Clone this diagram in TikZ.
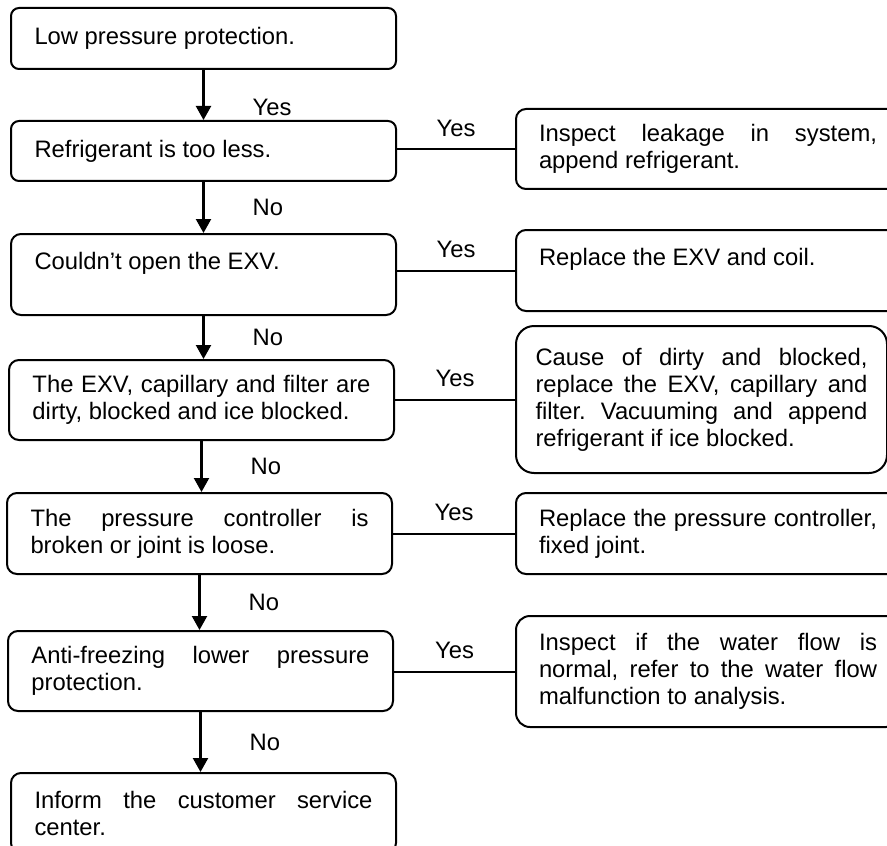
\documentclass[tikz,border=0pt]{standalone}
\usepackage{fontspec}
\setmainfont{Liberation Sans}
\frenchspacing
\usetikzlibrary{arrows.meta, positioning}

\begin{document}
\begin{tikzpicture}[x=0.5pt, y=0.5pt, line join=round,
    box/.style={draw, line width=1pt, rounded corners=5pt, anchor=north west,
      align=justify, text width=169pt, inner xsep=11.75pt, inner ysep=0pt,
      font=\fontsize{11.9}{13.5}\selectfont},
    rbox/.style={box, inner xsep=11.5pt},
    flow/.style={line width=1.1pt, -{Triangle[length=7pt, width=7.5pt]}},
    link/.style={line width=1pt},
    lbl/.style={inner sep=0pt, font=\fontsize{11.9}{13.5}\selectfont}]
  \clip (0,0) rectangle (887,-845);
  % Pruefkette links
  \node[box, minimum height=30.5pt, rounded corners=4pt] (low) at (10,-7) {Low pressure protection.};
  \node[box, minimum height=30pt, rounded corners=4pt] (less) at (10,-120) {Refrigerant is too less.};
  \node[box, minimum height=40.5pt] (exv) at (10,-233) {Couldn’t open the EXV.\\\mbox{}};
  \node[box, minimum height=40pt] (dirty) at (8,-359) {The EXV, capillary and filter are\linebreak dirty, blocked and ice blocked.};
  \node[box, minimum height=40.5pt] (ctrl) at (6,-492) {The pressure controller is\linebreak broken or joint is loose.};
  \node[box, minimum height=40pt] (freeze) at (7,-630) {Anti-freezing lower pressure\linebreak protection.};
  \node[box, minimum height=40pt] (inform) at (10,-772) {Inform the customer service\linebreak center.};
  % Massnahmen rechts
  \node[rbox, minimum height=40pt] (leak) at (515,-108) {Inspect leakage in system,\linebreak append refrigerant.};
  \node[rbox, minimum height=40.5pt] (coil) at (515,-229) {Replace the EXV and coil.\\\mbox{}};
  \node[box, minimum height=73.5pt, rounded corners=9pt, text width=166pt, inner xsep=9.75pt] (clean) at (515,-325)
    {Cause of dirty and blocked,\linebreak replace the EXV, capillary and\linebreak filter. Vacuuming and append\linebreak refrigerant if ice blocked.};
  \node[rbox, minimum height=40.5pt] (repl) at (515,-492) {Replace the pressure controller,\linebreak fixed joint.};
  \node[rbox, minimum height=55.5pt, rounded corners=7pt] (water) at (515,-615)
    {Inspect if the water flow is\linebreak normal, refer to the water flow\linebreak malfunction to analysis.};
  % Pfeile nach unten
  \draw[flow] (low.south) -- (low.south |- less.north) node[lbl, pos=0.75, right=24pt] {Yes};
  \draw[flow] (less.south) -- (less.south |- exv.north) node[lbl, midway, right=24pt] {No};
  \draw[flow] (exv.south) -- (exv.south |- dirty.north) node[lbl, midway, right=24pt] {No};
  \draw[flow] (dirty.south) -- (dirty.south |- ctrl.north) node[lbl, midway, right=24pt] {No};
  \draw[flow] (ctrl.south) -- (ctrl.south |- freeze.north) node[lbl, midway, right=24pt] {No};
  \draw[flow] (freeze.south) -- (freeze.south |- inform.north) node[lbl, midway, right=24pt] {No};
  % Verbindungen nach rechts
  \draw[link] (less.east |- leak.west) -- (leak.west) node[lbl, midway, above=5.75pt] {Yes};
  \draw[link] (exv.east |- coil.west) -- (coil.west) node[lbl, midway, above=5.75pt] {Yes};
  \draw[link] (dirty.east |- clean.west) -- (clean.west) node[lbl, midway, above=5.75pt] {Yes};
  \draw[link] (ctrl.east |- repl.west) -- (repl.west) node[lbl, midway, above=5.75pt] {Yes};
  \draw[link] (freeze.east |- water.west) -- (water.west) node[lbl, midway, above=5.75pt] {Yes};
\end{tikzpicture}
\end{document}
